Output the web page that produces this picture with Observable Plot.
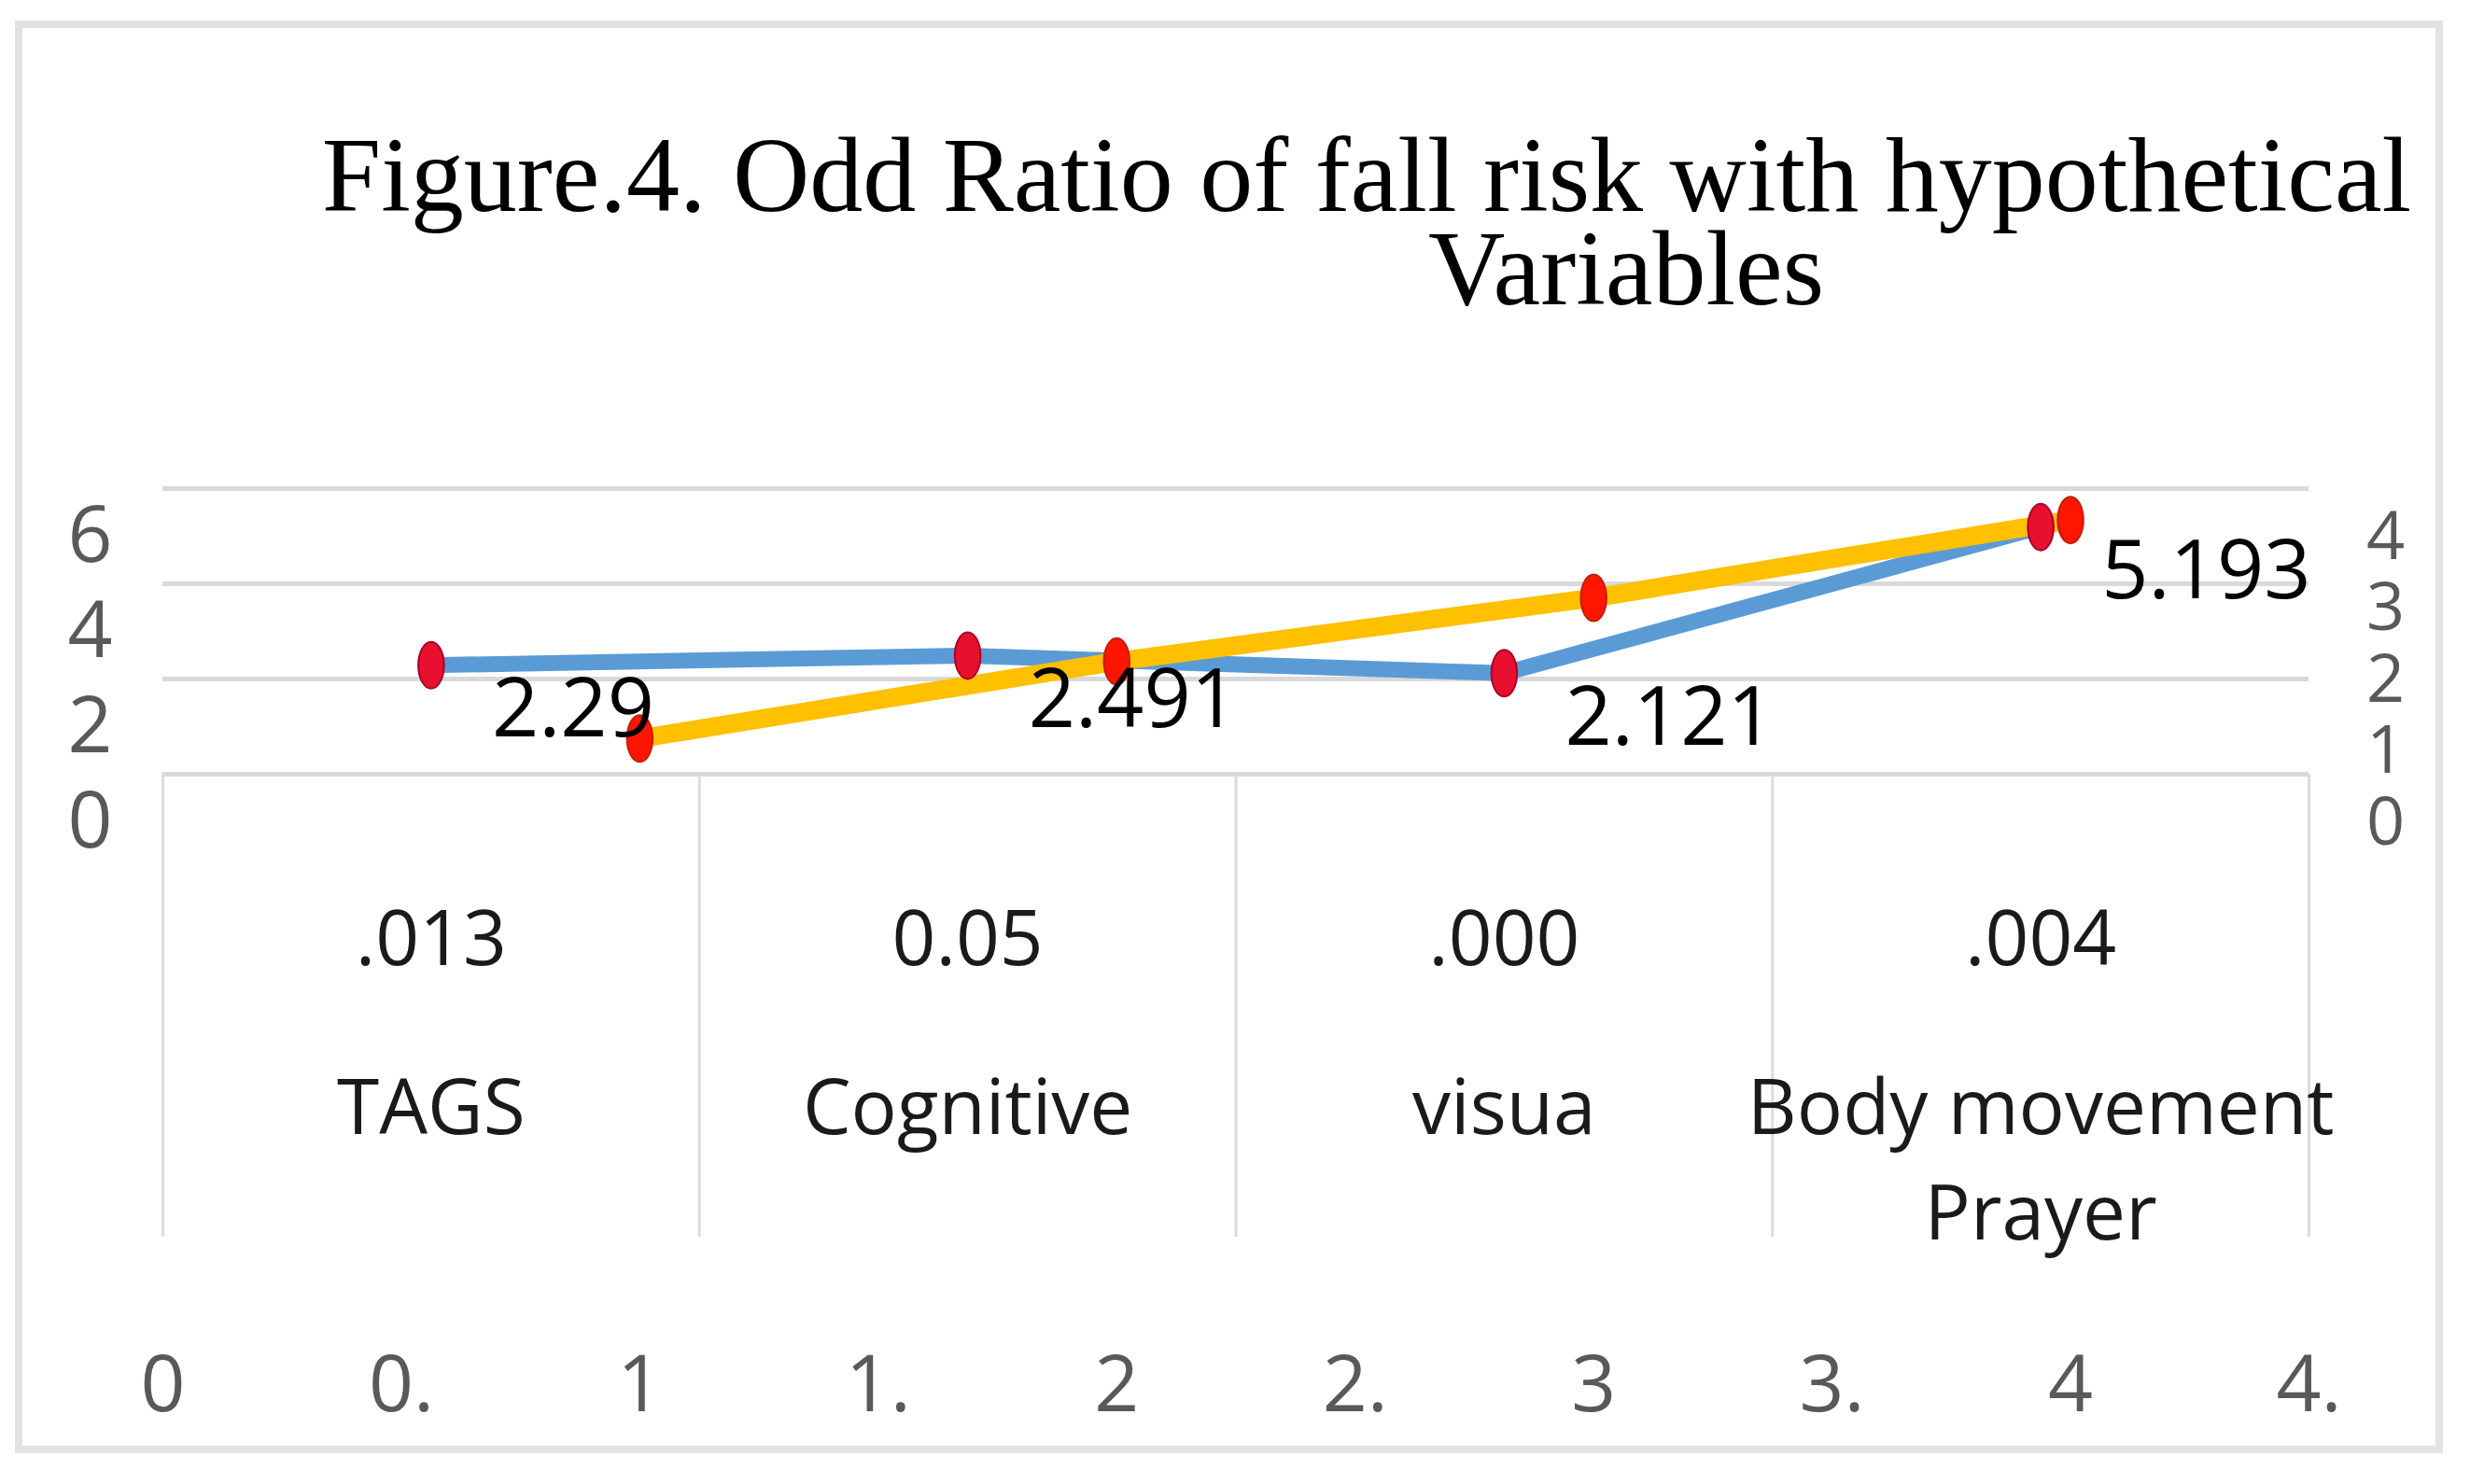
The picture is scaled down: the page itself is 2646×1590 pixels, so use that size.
<!DOCTYPE html>
<html><head><meta charset="utf-8">
<script src="https://cdn.jsdelivr.net/npm/d3@7"></script>
<script src="https://cdn.jsdelivr.net/npm/@observablehq/plot@0.6"></script>
<style>
html,body{margin:0;padding:0;background:#fff;}
#wrap{position:relative;width:2646px;height:1590px;overflow:hidden;background:#fff;}
#frame{position:absolute;left:16px;top:22px;width:2585px;height:1519px;border:8px solid #e2e2e2;}
.title{position:absolute;width:2400px;text-align:center;font-family:"Liberation Serif",serif;font-size:114px;line-height:95px;height:95px;color:#000;white-space:nowrap;}
#chart{position:absolute;left:0;top:0;}
</style></head><body>
<div id="wrap">
<div id="frame"></div>
<div class="title" style="left:264px;top:140px">Figure.4. Odd Ratio of fall risk with hypothetical</div>
<div class="title" style="left:542px;top:240px">Variables</div>
<div id="chart"></div>
</div>
<script>
// ---- data ----
const categories = ["TAGS", "Cognitive", "visua", "Body movement\nPrayer"];
const pValues = [".013", "0.05", ".000", ".004"];
const oddsRatio = [2.29, 2.491, 2.121, 5.193];
const secondaryX = [1, 2, 3, 4];
const secondaryValues = [0.5, 1.58, 2.47, 3.56];
const leftTicks = [0, 2, 4, 6];
const rightTicks = [0, 1, 2, 3, 4];
const bottomTicks = [0, 0.5, 1, 1.5, 2, 2.5, 3, 3.5, 4, 4.5];
const bottomTickLabels = ["0", "0.", "1", "1.", "2", "2.", "3", "3.", "4", "4."];

// ---- derived ----
const xMax = 4.5, yMax = 6, y2Max = 4, k = yMax / y2Max;
const catW = xMax / categories.length;
const primary = categories.map((c, i) => ({x: (i + 0.5) * catW, y: oddsRatio[i], label: String(oddsRatio[i]), cat: c, p: pValues[i]}));
const secondary = secondaryX.map((x, i) => ({x, y: secondaryValues[i] * k}));
const edges = d3.range(categories.length + 1).map(i => i * catW);
const fmt = d3.format("~g");

const ellipse = {
  draw(ctx, size) {
    const ry = Math.sqrt(size / Math.PI), rx = ry * 0.55, q = 0.5523;
    ctx.moveTo(0, -ry);
    ctx.bezierCurveTo(rx * q, -ry, rx, -ry * q, rx, 0);
    ctx.bezierCurveTo(rx, ry * q, rx * q, ry, 0, ry);
    ctx.bezierCurveTo(-rx * q, ry, -rx, ry * q, -rx, 0);
    ctx.bezierCurveTo(-rx, -ry * q, -rx * q, -ry, 0, -ry);
    ctx.closePath();
  }
};

const chart = Plot.plot({
  width: 2646, height: 1590,
  marginLeft: 174, marginRight: 173, marginTop: 523, marginBottom: 761,
  x: {domain: [0, xMax], label: null},
  y: {domain: [0, yMax], label: null},
  style: {fontFamily: "'Open Sans', sans-serif", background: "transparent", overflow: "visible"},
  marks: [
    Plot.gridY(leftTicks, {stroke: "#d9d9d9", strokeOpacity: 1, strokeWidth: 5}),
    Plot.ruleX(edges, {stroke: "#dcdcdc", strokeWidth: 3, insetTop: 306, insetBottom: -496}),
    Plot.axisY(leftTicks, {anchor: "left", tickSize: 0, tickPadding: 78, textAnchor: "middle", dy: 52, fontSize: 84, color: "#595959", label: null, tickFormat: fmt}),
    Plot.axisY(rightTicks.map(v => v * k), {anchor: "right", tickSize: 0, tickPadding: 82, textAnchor: "middle", dy: 52, fontSize: 72, color: "#595959", label: null, tickFormat: d => fmt(d / k)}),
    Plot.axisX(bottomTicks, {anchor: "bottom", tickSize: 0, tickPadding: 623, fontSize: 84, color: "#595959", label: null, tickFormat: d => bottomTickLabels[bottomTicks.indexOf(d)]}),
    Plot.text(primary, {x: "x", text: "p", frameAnchor: "bottom", dy: 204, fontSize: 82, fill: "#1a1a1a"}),
    Plot.text(primary, {x: "x", text: "cat", frameAnchor: "bottom", lineAnchor: "top", dy: 305, fontSize: 82, lineHeight: 1.38, fill: "#1a1a1a"}),
    Plot.line(primary, {x: "x", y: "y", stroke: "#5b9bd5", strokeWidth: 17, strokeLinejoin: "round", strokeLinecap: "round"}),
    Plot.line(secondary, {x: "x", y: "y", stroke: "#ffc000", strokeWidth: 20, strokeLinejoin: "round", strokeLinecap: "round"}),
    Plot.dot(primary, {x: "x", y: "y", r: 25, symbol: ellipse, fill: "#e8102e", stroke: "#a8002a", strokeWidth: 2}),
    Plot.dot(secondary, {x: "x", y: "y", r: 25, symbol: ellipse, fill: "#ff1500", stroke: "#c02000", strokeWidth: 2}),
    Plot.text(primary, {x: "x", y: "y", text: "label", textAnchor: "start", dx: 65, dy: 48, fontSize: 88, fill: "#000"})
  ]
});
document.getElementById("chart").appendChild(chart);
</script>
</body></html>
